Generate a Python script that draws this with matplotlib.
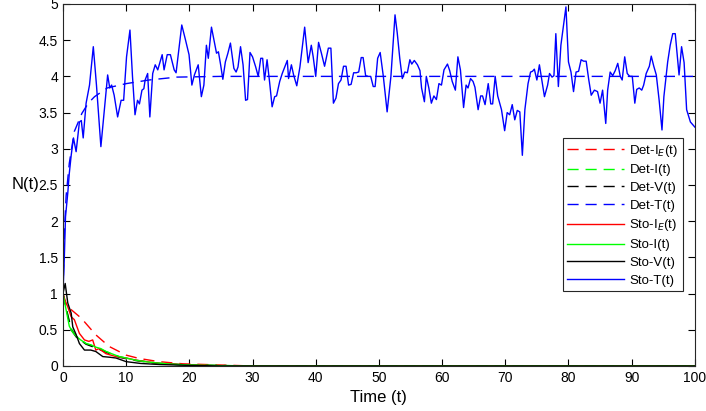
import matplotlib
matplotlib.use('Agg')
import matplotlib.pyplot as plt
import numpy as np

plt.rcParams['font.family'] = ['Liberation Sans', 'DejaVu Sans']

# deterministic curves
det_t = [0, 0.25, 0.5, 1, 1.8, 3, 4, 5, 7, 10, 13.6, 18, 25, 30, 40, 100]
det_T = [1.0, 1.9, 2.35, 2.8, 3.24, 3.49, 3.63, 3.72, 3.84, 3.9, 3.95, 3.99, 4.0, 4.0, 4.0, 4.0]

detE_t = [0, 0.5, 1, 2.9, 5.2, 7.3, 10, 12, 15.2, 19, 24.5, 30, 100]
det_IE = [1.0, 0.86, 0.8, 0.66, 0.43, 0.27, 0.15, 0.105, 0.06, 0.03, 0.015, 0.0, 0.0]

detI_t = [0, 0.5, 1.3, 2.1, 3.66, 5.2, 6.8, 8.9, 11.5, 15, 20, 30, 100]
det_I = [1.0, 0.8, 0.52, 0.41, 0.31, 0.26, 0.2, 0.13, 0.08, 0.04, 0.015, 0.0, 0.0]
det_V = [1.0, 0.8, 0.5, 0.4, 0.3, 0.25, 0.19, 0.12, 0.075, 0.035, 0.012, 0.0, 0.0]

# stochastic curves
stoE_t = [0, 0.3, 0.75, 1.3, 1.8, 2.6, 3.4, 4.1, 4.7, 5.2, 5.7, 6.8, 8.4, 10, 11.6,
          13.2, 15.4, 18.6, 21.7, 26, 100]
sto_IE = [1.0, 0.9, 0.82, 0.68, 0.64, 0.45, 0.36, 0.34, 0.36, 0.22, 0.24, 0.17, 0.13,
          0.11, 0.08, 0.06, 0.035, 0.02, 0.01, 0.0, 0.0]

stoI_t = [0, 0.4, 1.0, 1.5, 2.1, 2.8, 3.66, 4.5, 5.2, 6.0, 6.8, 8.0, 8.9, 10.5, 11.5,
          13, 15, 18, 22, 28, 100]
sto_I = [1.0, 0.82, 0.55, 0.47, 0.41, 0.36, 0.31, 0.29, 0.26, 0.24, 0.2, 0.16, 0.13,
         0.1, 0.08, 0.06, 0.04, 0.02, 0.01, 0.0, 0.0]

stoV_t = [0, 0.35, 0.76, 1.3, 1.55, 2.1, 2.6, 3.4, 4.4, 5.2, 6.3, 7.5, 8.4, 10, 12.3,
          15.4, 20, 25, 100]
sto_V = [1.0, 1.14, 0.87, 0.73, 0.54, 0.43, 0.31, 0.22, 0.22, 0.2, 0.13, 0.12, 0.11,
         0.06, 0.035, 0.02, 0.008, 0.0, 0.0]

stoT_t = [0, 0.2, 0.4, 0.76, 1.0, 1.3, 1.66, 2.08, 2.6, 2.9, 3.2, 3.66, 4.2, 4.8, 5.3,
          6.0, 7.07, 7.4, 7.7, 8.1, 8.65, 9.2, 9.6, 10.06, 10.6, 11.0, 11.4, 11.8, 12.1,
          12.5, 12.8, 13.0, 13.4, 13.75, 14.2, 14.6, 15.0, 15.3, 15.7, 16.0, 16.5, 17.0,
          17.6, 17.9, 18.8, 19.4, 19.95, 20.4, 20.8, 21.4, 21.9, 22.3, 22.7, 23.0, 23.5,
          23.9, 24.3, 24.6, 24.95, 25.3, 25.7, 26.1, 26.5, 27.05, 27.4, 27.7, 28.1, 28.5,
          28.9, 29.2, 29.6, 30.0, 30.5, 30.9, 31.3, 31.6, 31.9, 32.3, 32.7, 33.1, 33.5,
          33.8, 34.3, 34.7, 35.1, 35.5, 35.7, 36.15, 36.5, 37.0, 37.5, 38.25, 38.8, 39.3,
          39.6, 40.0, 40.45, 40.9, 41.4, 42.0, 42.4, 42.8, 43.2, 43.6, 44.0, 44.4, 44.8,
          45.2, 45.6, 46.0, 46.4, 46.8, 47.2, 47.5, 47.9, 48.3, 48.7, 49.1, 49.4, 49.8,
          50.2, 50.7, 51.3, 51.9, 52.55, 52.9, 53.3, 53.7, 54.1, 54.5, 54.9, 55.2, 55.6,
          56.1, 56.5, 56.75, 57.2, 57.5, 57.9, 58.3, 58.7, 59.1, 59.5, 59.9, 60.3, 60.85,
          61.2, 61.6, 62.1, 62.5, 62.9, 63.4, 63.8, 64.1, 64.5, 64.9, 65.2, 65.7, 66.1,
          66.4, 66.8, 67.3, 67.7, 68.0, 68.4, 68.8, 69.4, 69.9, 70.3, 70.7, 71.1, 71.5,
          71.9, 72.3, 72.7, 73.1, 73.6, 74.0, 74.3, 74.6, 75.0, 75.4, 75.8, 76.2, 76.7,
          77.0, 77.4, 77.7, 78.0, 78.4, 78.8, 79.6, 80.0, 80.4, 80.8, 81.2, 81.6, 82.0,
          82.4, 82.8, 83.2, 83.6, 84.1, 84.6, 85.0, 85.4, 85.9, 86.2, 86.6, 87.0, 87.4,
          87.8, 88.2, 88.5, 88.9, 89.3, 89.7, 90.1, 90.5, 90.8, 91.2, 91.6, 91.9, 92.3,
          92.8, 93.1, 93.5, 93.9, 94.35, 94.8, 95.1, 95.7, 96.1, 96.5, 96.9, 97.2, 97.5,
          97.9, 98.3, 98.7, 99.3, 100.0]
sto_T = [1.0, 1.46, 2.06, 2.39, 2.66, 2.91, 3.15, 2.96, 3.37, 3.39, 3.15, 3.63, 3.88,
         4.41, 3.88, 3.03, 4.02, 3.84, 3.88, 3.74, 3.44, 3.67, 3.67, 4.27, 4.64, 4.0, 3.47,
         3.67, 3.62, 3.81, 3.83, 3.95, 4.04, 3.44, 4.04, 4.16, 4.09, 4.18, 4.30, 4.09, 4.30,
         4.30, 4.09, 4.05, 4.71, 4.5, 4.30, 3.88, 4.02, 4.16, 3.72, 3.88, 4.43, 4.25, 4.68,
         4.5, 4.32, 4.34, 4.16, 3.96, 4.20, 4.32, 4.46, 4.11, 4.06, 4.13, 4.41, 4.16, 3.67,
         3.68, 4.33, 4.27, 4.13, 4.0, 4.25, 4.25, 3.95, 4.23, 3.92, 3.58, 3.72, 3.73, 3.93,
         4.04, 4.13, 4.22, 3.97, 4.16, 4.02, 3.87, 4.13, 4.68, 4.19, 4.43, 4.27, 4.0, 4.47,
         4.32, 4.14, 4.39, 4.39, 3.63, 3.7, 3.90, 3.95, 4.14, 4.14, 3.88, 3.89, 4.05, 4.05,
         4.06, 4.26, 4.26, 4.01, 4.0, 4.0, 3.86, 3.86, 4.25, 4.33, 4.0, 3.51, 4.0, 4.85, 4.6,
         4.25, 3.97, 4.06, 4.05, 4.23, 4.17, 4.22, 4.16, 4.08, 3.84, 3.65, 4.0, 3.84, 3.63,
         3.73, 3.68, 3.90, 3.88, 4.09, 4.17, 4.08, 3.93, 3.81, 4.27, 4.09, 3.57, 3.88, 3.84,
         3.97, 3.93, 3.85, 3.54, 3.73, 3.73, 3.61, 3.90, 3.62, 3.62, 4.0, 3.73, 3.54, 3.25,
         3.5, 3.47, 3.61, 3.40, 3.53, 3.51, 2.91, 3.54, 3.9, 4.06, 4.07, 4.10, 3.95, 4.16,
         3.94, 3.72, 3.88, 4.04, 3.99, 4.01, 4.59, 3.86, 4.43, 4.96, 4.20, 4.06, 3.79, 4.06,
         4.07, 4.23, 4.21, 4.21, 3.96, 3.74, 3.81, 3.79, 3.63, 3.81, 3.35, 3.81, 4.06, 4.01,
         4.08, 4.18, 4.0, 3.95, 4.27, 4.04, 4.0, 4.0, 3.63, 3.82, 3.84, 3.81, 3.88, 4.04,
         4.14, 4.28, 4.14, 4.02, 3.67, 3.26, 3.72, 4.20, 4.43, 4.59, 4.59, 4.31, 4.02, 4.41,
         4.19, 3.54, 3.37, 3.3]

x_ticks = list(range(0, 101, 10))
y_ticks = [0, 0.5, 1, 1.5, 2, 2.5, 3, 3.5, 4, 4.5, 5]
y_labels = ['0', '0.5', '1', '1.5', '2', '2.5', '3', '3.5', '4', '4.5', '5']

fig = plt.figure(figsize=(7.06, 4.11), dpi=100)
ax = fig.add_axes([0.0892, 0.1095, 0.895, 0.8808])

dash = (8, 5)
ax.plot(detE_t, det_IE, color='#ff0000', lw=1, dashes=dash, label='Det-I$_E$(t)')
ax.plot(detI_t, det_I, color='#00ff00', lw=1, dashes=dash, label='Det-I(t)')
ax.plot(detI_t, det_V, color='black', lw=1, dashes=dash, label='Det-V(t)')
ax.plot(det_t, det_T, color='#0000ff', lw=1, dashes=dash, label='Det-T(t)')
ax.plot(stoE_t, sto_IE, color='#ff0000', lw=1, label='Sto-I$_E$(t)')
ax.plot(stoI_t, sto_I, color='#00ff00', lw=1, label='Sto-I(t)')
ax.plot(stoV_t, sto_V, color='black', lw=1, label='Sto-V(t)')
ax.plot(stoT_t, sto_T, color='#0000ff', lw=1, label='Sto-T(t)')

ax.set_xlim(0, 100)
ax.set_ylim(0, 5)
ax.set_xticks(x_ticks)
ax.set_yticks(y_ticks)
ax.set_yticklabels(y_labels)
ax.tick_params(direction='in', top=True, right=True, labelsize=10, length=5, width=0.8)
for s in ax.spines.values():
    s.set_linewidth(0.8)
    s.set_color('#262626')

ax.set_xlabel('Time (t)', fontsize=12, labelpad=4)
ax.set_ylabel('N(t)', fontsize=12, rotation=0, ha='right', va='center')
ax.yaxis.set_label_coords(-0.037, 0.5)

leg = ax.legend(loc='upper right', bbox_to_anchor=(0.981, 0.630), borderaxespad=0,
                fontsize=9.5, handlelength=4.3, labelspacing=0.42, borderpad=0.35,
                handletextpad=0.4, fancybox=False, framealpha=1, edgecolor='#262626')
leg.get_frame().set_linewidth(0.8)

fig.savefig('out.png', dpi=100)
